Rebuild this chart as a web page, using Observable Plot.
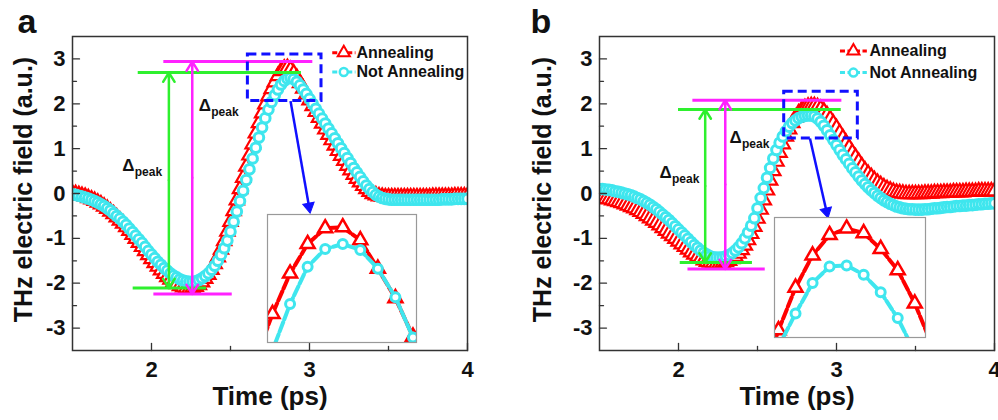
<!DOCTYPE html>
<html><head><meta charset="utf-8">
<script src="https://cdn.jsdelivr.net/npm/d3@7"></script>
<script src="https://cdn.jsdelivr.net/npm/@observablehq/plot@0.6"></script>
<style>
body{margin:0;background:#fff;}
#wrap{position:relative;width:998px;height:420px;overflow:hidden;background:#fff;}
#wrap svg{position:absolute;overflow:visible;}
</style></head><body><div id="wrap"></div>
<script>
// ---------- data ----------
const xTicks = [2, 3, 4];
const xMinor = [2.5, 3.5];
const yTicks = [-3, -2, -1, 0, 1, 2, 3];
const yMinor = [-2.5, -1.5, -0.5, 0.5, 1.5, 2.5];
const seriesNames = ["Annealing", "Not Annealing"];

// sampling grid: 1.50 ps to 4.00 ps every 0.02 ps
const time = d3.range(126).map(i => Math.round((1.5 + i * 0.02) * 100) / 100);

const annealA = [
  0.00,-0.01,-0.03,-0.05,-0.07,-0.10,-0.13,-0.16,-0.20,-0.24,-0.29,-0.34,-0.40,-0.46,-0.53,-0.60,-0.67,-0.75,-0.83,-0.92,-1.01,-1.10,-1.19,-1.28,-1.37,-1.46,
  -1.55,-1.63,-1.71,-1.79,-1.86,-1.92,-1.97,-2.02,-2.06,-2.09,-2.11,-2.12,-2.11,-2.08,-2.04,-1.98,-1.90,-1.81,-1.70,-1.57,-1.42,-1.25,-1.06,-0.85,-0.63,
  -0.39,-0.15,0.10,0.35,0.60,0.85,1.10,1.34,1.57,1.79,1.99,2.17,2.33,2.48,2.62,2.73,2.79,2.80,2.76,2.68,2.58,2.46,2.34,2.21,2.08,
  1.95,1.82,1.69,1.56,1.43,1.31,1.19,1.07,0.95,0.84,0.73,0.62,0.52,0.42,0.33,0.25,0.17,0.10,0.04,-0.01,-0.04,-0.06,-0.07,-0.08,-0.08,
  -0.08,-0.08,-0.08,-0.08,-0.08,-0.08,-0.08,-0.08,-0.08,-0.08,-0.08,-0.08,-0.08,-0.07,-0.07,-0.07,-0.07,-0.07,-0.07,-0.07,-0.06,-0.06,-0.06,-0.06,-0.06
];
const notAnnealA = [
  -0.02,-0.03,-0.05,-0.07,-0.09,-0.11,-0.14,-0.17,-0.20,-0.24,-0.28,-0.33,-0.38,-0.44,-0.50,-0.56,-0.63,-0.70,-0.78,-0.86,-0.94,-1.02,-1.10,-1.19,-1.28,-1.36,
  -1.44,-1.52,-1.59,-1.66,-1.72,-1.78,-1.83,-1.87,-1.91,-1.94,-1.96,-1.97,-1.97,-1.96,-1.93,-1.89,-1.84,-1.78,-1.70,-1.61,-1.50,-1.37,-1.22,-1.05,-0.85,
  -0.63,-0.40,-0.17,0.06,0.30,0.54,0.78,1.02,1.25,1.47,1.68,1.87,2.04,2.19,2.32,2.43,2.51,2.56,2.58,2.55,2.49,2.41,2.32,2.22,2.11,
  2.00,1.89,1.78,1.67,1.56,1.45,1.34,1.23,1.12,1.01,0.90,0.79,0.68,0.57,0.47,0.37,0.27,0.18,0.10,0.03,-0.03,-0.07,-0.10,-0.12,-0.13,
  -0.14,-0.14,-0.14,-0.14,-0.14,-0.14,-0.14,-0.14,-0.14,-0.14,-0.14,-0.14,-0.14,-0.14,-0.14,-0.14,-0.13,-0.13,-0.13,-0.13,-0.12,-0.12,-0.12,-0.12,-0.12
];
const annealB = [
  -0.10,-0.11,-0.12,-0.13,-0.15,-0.17,-0.19,-0.21,-0.24,-0.27,-0.30,-0.33,-0.37,-0.41,-0.45,-0.50,-0.55,-0.60,-0.65,-0.71,-0.77,-0.83,-0.89,-0.95,-1.01,-1.07,
  -1.13,-1.19,-1.25,-1.31,-1.36,-1.41,-1.45,-1.49,-1.52,-1.54,-1.55,-1.56,-1.56,-1.55,-1.53,-1.50,-1.46,-1.41,-1.34,-1.26,-1.16,-1.04,-0.90,-0.74,-0.56,
  -0.36,-0.15,0.07,0.29,0.50,0.71,0.91,1.10,1.27,1.43,1.57,1.69,1.79,1.86,1.91,1.94,1.95,1.95,1.93,1.89,1.83,1.75,1.66,1.56,1.46,
  1.35,1.24,1.13,1.02,0.91,0.81,0.71,0.61,0.52,0.44,0.37,0.30,0.24,0.19,0.14,0.10,0.07,0.04,0.02,0.01,0.00,-0.01,-0.01,-0.01,-0.01,
  -0.01,-0.01,0.00,0.00,0.00,0.01,0.01,0.01,0.02,0.02,0.02,0.03,0.03,0.03,0.03,0.04,0.04,0.04,0.04,0.05,0.05,0.05,0.05,0.05,0.05
];
const notAnnealB = [
  0.10,0.10,0.09,0.08,0.07,0.05,0.04,0.02,0.00,-0.02,-0.04,-0.07,-0.10,-0.13,-0.17,-0.21,-0.25,-0.30,-0.35,-0.41,-0.47,-0.53,-0.59,-0.66,-0.73,-0.80,
  -0.87,-0.94,-1.01,-1.08,-1.15,-1.21,-1.27,-1.32,-1.36,-1.40,-1.42,-1.43,-1.43,-1.42,-1.40,-1.37,-1.33,-1.27,-1.20,-1.11,-1.00,-0.87,-0.72,-0.55,-0.33,
  -0.10,0.12,0.35,0.57,0.78,0.97,1.13,1.27,1.39,1.49,1.57,1.63,1.68,1.71,1.73,1.74,1.74,1.72,1.67,1.60,1.51,1.41,1.30,1.19,1.08,
  0.97,0.86,0.76,0.66,0.56,0.47,0.38,0.29,0.21,0.14,0.07,0.01,-0.05,-0.10,-0.15,-0.19,-0.23,-0.26,-0.29,-0.31,-0.33,-0.34,-0.35,-0.35,-0.36,
  -0.36,-0.36,-0.35,-0.35,-0.34,-0.33,-0.33,-0.32,-0.31,-0.30,-0.30,-0.29,-0.28,-0.28,-0.27,-0.27,-0.26,-0.26,-0.25,-0.24,-0.24,-0.23,-0.23,-0.22,-0.22
];

// magnified peak (insets)
const insetTime = [2.72, 2.74, 2.76, 2.78, 2.80, 2.82, 2.84, 2.86, 2.88, 2.90, 2.92];
const insetAnnealA = [1.41, 1.89, 2.30, 2.60, 2.76, 2.77, 2.64, 2.35, 2.05, 1.66, 1.22];
const insetNotAnnealA = [1.10, 1.52, 1.99, 2.37, 2.55, 2.60, 2.54, 2.35, 2.06, 1.65, 1.22];
const insetAnnealB = [1.14, 1.68, 2.14, 2.49, 2.71, 2.78, 2.73, 2.56, 2.33, 1.97, 1.52];
const insetNotAnnealB = [1.10, 1.50, 1.86, 2.19, 2.37, 2.38, 2.28, 2.09, 1.81, 1.44, 1.00];

// peak-to-peak guides (levels in a.u., spans in ps)
const guidesA = [
  {series: "Annealing", x: 2.258, low: -2.24, high: 2.94, lowSpan: [2.015, 2.511], highSpan: [2.078, 3.021]},
  {series: "Not Annealing", x: 2.110, low: -2.107, high: 2.695, lowSpan: [1.884, 2.348], highSpan: [1.916, 2.949]}
];
const guidesB = [
  {series: "Annealing", x: 2.296, low: -1.684, high: 2.08, lowSpan: [2.060, 2.549], highSpan: [2.091, 3.034]},
  {series: "Not Annealing", x: 2.169, low: -1.537, high: 1.871, lowSpan: [2.011, 2.468], highSpan: [2.000, 3.030]}
];
const deltaLabelsA = [{t: 1.815, v: 0.506}, {t: 2.299, v: 1.842}];
const deltaLabelsB = [{t: 1.880, v: 0.356}, {t: 2.323, v: 1.136}];
const zoomBoxA = {t1: 2.610, t2: 3.076, v1: 2.06, v2: 3.10};
const zoomBoxB = {t1: 2.669, t2: 3.135, v1: 1.225, v2: 2.27};
const zoomArrowA = {t1: 2.880, v1: 2.06, t2: 2.997, v2: -0.29};
const zoomArrowB = {t1: 2.832, v1: 1.225, t2: 2.937, v2: -0.40};
const legendA = {t1: 3.144, t2: 3.291, tm: 3.217, tt: 3.297, v: [3.14, 2.71]};
const legendB = {t1: 3.022, t2: 3.192, tm: 3.107, tt: 3.209, v: [3.178, 2.695]};

// ---------- style ----------
const FONT = '"Liberation Sans", Arial, Helvetica, sans-serif';
const RED = "#ff0000", CYAN = "#3fe6ee", GREEN = "#2ef02e", MAGENTA = "#ff22ff", BLUE = "#1010ff", INK = "#111";
const guideColor = s => s === "Annealing" ? MAGENTA : GREEN;
const tickShape = {draw(ctx, l) { ctx.moveTo(0, 0); ctx.lineTo(0, -l); }};

function series(values, ts) { return values.map((v, i) => ({t: ts[i], v})); }

function panel(o) {
  const red = series(o.anneal, time), cyan = series(o.notAnneal, time);
  const hl = o.guides.flatMap(g => [
    {c: guideColor(g.series), y: g.high, x1: g.highSpan[0], x2: g.highSpan[1]},
    {c: guideColor(g.series), y: g.low, x1: g.lowSpan[0], x2: g.lowSpan[1]}]);
  const arrows = o.guides.flatMap(g => {
    const mid = (g.low + g.high) / 2;
    return [{c: guideColor(g.series), x: g.x, y1: mid, y2: g.high}, {c: guideColor(g.series), x: g.x, y1: mid, y2: g.low}];
  });
  const leg = seriesNames.map((s, i) => ({s, v: o.legend.v[i]}));
  return Plot.plot({
    width: o.width, height: 420,
    marginLeft: o.ml, marginRight: o.mr, marginTop: 36, marginBottom: 70,
    x: {domain: [1.5, 4]}, y: {domain: [-3.5, 3.5]},
    style: {fontFamily: FONT, fontWeight: "bold", background: "transparent", overflow: "visible", color: INK},
    marks: [
      Plot.line(red, {x: "t", y: "v", stroke: RED, strokeWidth: 3, strokeDasharray: "8,3", clip: true}),
      Plot.dot(red, {x: "t", y: "v", symbol: "triangle", r: 5.3, stroke: RED, strokeWidth: 2.2, fill: "white", clip: true}),
      Plot.line(cyan, {x: "t", y: "v", stroke: CYAN, strokeWidth: 3, strokeDasharray: "8,3", clip: true}),
      Plot.dot(cyan, {x: "t", y: "v", r: 4.8, stroke: CYAN, strokeWidth: 3, fill: "white", clip: true}),
      // guides
      Plot.ruleY(hl, {y: "y", x1: "x1", x2: "x2", stroke: "c", strokeWidth: 3}),
      Plot.arrow(arrows, {x1: "x", x2: "x", y1: "y1", y2: "y2", stroke: "c", strokeWidth: 2.5, headLength: 6.5, headAngle: 64}),
      Plot.text(o.deltas, {x: "t", y: "v", text: () => "Δ", textAnchor: "start", lineAnchor: "bottom", fontSize: 17, fill: INK}),
      Plot.text(o.deltas, {x: "t", y: "v", text: () => "peak", textAnchor: "start", lineAnchor: "bottom", fontSize: 12, dx: 12.5, dy: 5, fill: INK}),
      Plot.rect([o.box], {x1: "t1", x2: "t2", y1: "v1", y2: "v2", fill: "none", stroke: BLUE, strokeWidth: 3, strokeDasharray: "9,5"}),
      Plot.link([o.arrow], {x1: "t1", y1: "v1", x2: "t2", y2: "v2", stroke: BLUE, strokeWidth: 2.5}),
      Plot.dot([o.arrow], {x: "t2", y: "v2", symbol: "triangle2", r: 5.5, fill: BLUE, stroke: BLUE, strokeWidth: 1, rotate: o.arrowRotate}),
      // legend
      Plot.link(leg, {x1: () => o.legend.t1, x2: () => o.legend.t2, y1: "v", y2: "v", stroke: d => d.s === "Annealing" ? RED : CYAN, strokeWidth: 3, strokeDasharray: "5,2.5"}),
      Plot.dot(leg.slice(0, 1), {x: () => o.legend.tm, y: "v", symbol: "triangle", r: 4.5, stroke: RED, strokeWidth: 2, fill: "white"}),
      Plot.dot(leg.slice(1), {x: () => o.legend.tm, y: "v", r: 4, stroke: CYAN, strokeWidth: 2.5, fill: "white"}),
      Plot.text(leg, {x: () => o.legend.tt, y: "v", text: "s", textAnchor: "start", fontSize: 16, fill: INK}),
      // axes
      Plot.frame({stroke: "#333", strokeWidth: 1.5}),
      Plot.vector(xTicks, {x: d => d, frameAnchor: "bottom", length: 7, rotate: 0, anchor: "start", shape: tickShape, stroke: "#333", strokeWidth: 1.3}),
      Plot.vector(xMinor, {x: d => d, frameAnchor: "bottom", length: 4, rotate: 0, anchor: "start", shape: tickShape, stroke: "#333", strokeWidth: 1.3}),
      Plot.vector(yTicks, {y: d => d, frameAnchor: "left", length: 7, rotate: 90, anchor: "start", shape: tickShape, stroke: "#333", strokeWidth: 1.3}),
      Plot.vector(yMinor, {y: d => d, frameAnchor: "left", length: 4, rotate: 90, anchor: "start", shape: tickShape, stroke: "#333", strokeWidth: 1.3}),
      Plot.axisX({ticks: xTicks, tickSize: 0, tickPadding: 11, tickFormat: d => String(d), fontSize: 22, label: null}),
      Plot.axisY({ticks: yTicks, tickSize: 0, tickPadding: 7, tickFormat: d => String(d), fontSize: 22, label: null}),
      Plot.text(["Time (ps)"], {text: d => d, frameAnchor: "bottom", textAnchor: "middle", dy: 54, fontSize: 26, fill: INK}),
      Plot.text(["THz electric field (a.u.)"], {text: d => d, frameAnchor: "left", textAnchor: "middle", rotate: -90, dx: o.titleDx, dy: -4, fontSize: 25, fill: INK}),
      Plot.text([o.letter], {text: d => d, frameAnchor: "top-left", dx: o.letterDx, dy: -4, fontSize: 34, textAnchor: "start", lineAnchor: "bottom", fill: INK})
    ]
  });
}

function inset(o) {
  const red = series(o.anneal, insetTime), cyan = series(o.notAnneal, insetTime);
  return Plot.plot({
    width: o.w, height: o.h, margin: 0,
    x: {domain: o.xd, axis: null}, y: {domain: [1.6, 2.9], axis: null},
    style: {background: "white", overflow: "visible"},
    marks: [
      Plot.line(red, {x: "t", y: "v", stroke: RED, strokeWidth: 4, strokeDasharray: "10,3", clip: true}),
      Plot.dot(red, {x: "t", y: "v", symbol: "triangle", r: 5.2, stroke: RED, strokeWidth: 2.5, fill: "white", clip: true}),
      Plot.line(cyan, {x: "t", y: "v", stroke: CYAN, strokeWidth: 4, strokeDasharray: "10,3", clip: true}),
      Plot.dot(cyan, {x: "t", y: "v", r: 4.5, stroke: CYAN, strokeWidth: 3, fill: "white", clip: true}),
      Plot.frame({stroke: "#999", strokeWidth: 1.2})
    ]
  });
}

const wrap = document.getElementById("wrap");
function place(el, left, top) { el.style.left = left + "px"; el.style.top = top + "px"; wrap.appendChild(el); }

place(panel({width: 500, ml: 72, mr: 33, anneal: annealA, notAnneal: notAnnealA, guides: guidesA, deltas: deltaLabelsA,
  box: zoomBoxA, arrow: zoomArrowA, arrowRotate: 170, legend: legendA, titleDx: -49, letter: "a", letterDx: -55}), 0, 0);
place(panel({width: 498, ml: 99, mr: 4, anneal: annealB, notAnneal: notAnnealB, guides: guidesB, deltas: deltaLabelsB,
  box: zoomBoxB, arrow: zoomArrowB, arrowRotate: 167, legend: legendB, titleDx: -57, letter: "b", letterDx: -69}), 500, 0);
place(inset({w: 149, h: 128, xd: [2.7343, 2.9040], anneal: insetAnnealA, notAnneal: insetNotAnnealA}), 267, 214);
place(inset({w: 151, h: 120, xd: [2.7353, 2.9126], anneal: insetAnnealB, notAnneal: insetNotAnnealB}), 774, 217);
</script></body></html>
